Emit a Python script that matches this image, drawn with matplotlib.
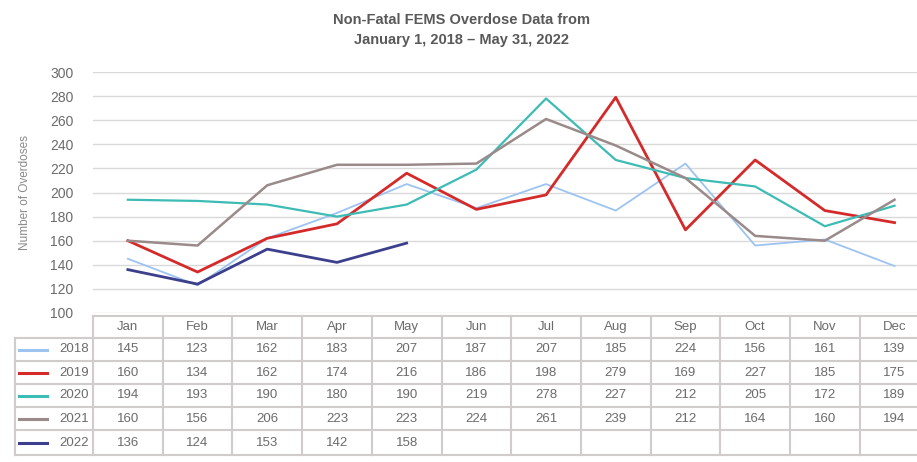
import matplotlib
matplotlib.use("Agg")
import matplotlib.pyplot as plt
import numpy as np

plt.rcParams['font.family'] = ['Liberation Sans', 'DejaVu Sans']

months = ["Jan", "Feb", "Mar", "Apr", "May", "Jun", "Jul", "Aug", "Sep", "Oct", "Nov", "Dec"]
years = ["2018", "2019", "2020", "2021", "2022"]
v2018 = [145, 123, 162, 183, 207, 187, 207, 185, 224, 156, 161, 139]
v2019 = [160, 134, 162, 174, 216, 186, 198, 279, 169, 227, 185, 175]
v2020 = [194, 193, 190, 180, 190, 219, 278, 227, 212, 205, 172, 189]
v2021 = [160, 156, 206, 223, 223, 224, 261, 239, 212, 164, 160, 194]
v2022 = [136, 124, 153, 142, 158]
series = [v2018, v2019, v2020, v2021, v2022]
colors = ["#9dc3f0", "#d42a2a", "#3cbcb4", "#9a8a8a", "#3c3f8c"]
widths = [1.3, 2.0, 1.6, 1.8, 2.0]
title = "Non-Fatal FEMS Overdose Data from\nJanuary 1, 2018 \u2013 May 31, 2022"

W, H = 917, 462
fig = plt.figure(figsize=(W / 100, H / 100), dpi=100)

# pixel layout
left_px = 93
colw = 69.7
top_px, bot_px = 72, 313
txtc = "#6b6b6b"
gridc = "#d9d9d9"

ax = fig.add_axes([left_px / W, 1 - bot_px / H, 12 * colw / W, (bot_px - top_px) / H])
x = np.arange(12)
for s, c, lw in zip(series, colors, widths):
    ax.plot(x[:len(s)], s, color=c, lw=lw, zorder=3)
ax.set_xlim(-0.5, 11.5)
ax.set_ylim(100, 300)
ax.set_yticks(np.arange(100, 301, 20))
ax.yaxis.grid(True, color=gridc, lw=1)
ax.set_xticks([])
for sp in ax.spines.values():
    sp.set_visible(False)
ax.tick_params(axis='y', length=0, labelsize=10, labelcolor=txtc, pad=14)
ax.set_ylabel("Number of Overdoses", fontsize=8.5, color="#8a8a8a", labelpad=14)
fig.text(462 / W, 1 - 30 / H, title, ha='center', va='center', fontsize=10.5,
         fontweight='bold', color="#595959", linespacing=1.5)

# table
tax = fig.add_axes([0, 0, 1, 1], zorder=-1)
tax.set_xlim(0, W)
tax.set_ylim(H, 0)
tax.axis('off')
row_y = [316, 338, 361, 384, 407, 430, 455]
lab_left = 15
right_edge = left_px + 12 * colw
tc = "#d0cccc"
tax.plot([left_px, right_edge], [row_y[0], row_y[0]], color=tc, lw=1.5)
for yy in row_y[1:]:
    tax.plot([lab_left, right_edge], [yy, yy], color=tc, lw=1.5)
tax.plot([lab_left, lab_left], [row_y[1], row_y[-1]], color=tc, lw=1.5)
for k in range(13):
    xx = left_px + k * colw
    tax.plot([xx, xx], [row_y[0], row_y[-1]], color=tc, lw=1.5)
fs = 9.5
for k, m in enumerate(months):
    tax.text(left_px + (k + 0.5) * colw, (row_y[0] + row_y[1]) / 2, m, ha='center',
             va='center', fontsize=fs, color=txtc)
for r, (yr, s, c) in enumerate(zip(years, series, colors)):
    yc = (row_y[r + 1] + row_y[r + 2]) / 2
    tax.plot([19, 47], [yc, yc], color=c, lw=2.2)
    tax.text(89, yc, yr, ha='right', va='center', fontsize=fs, color=txtc)
    for k, v in enumerate(s):
        tax.text(left_px + (k + 0.5) * colw, yc, str(v), ha='center', va='center',
                 fontsize=fs, color=txtc)

fig.savefig("out.png", dpi=100)
